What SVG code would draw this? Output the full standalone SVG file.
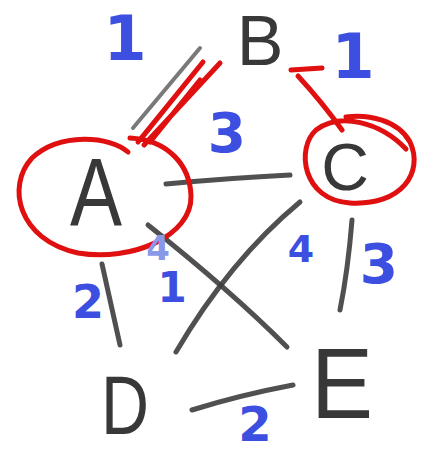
<svg xmlns="http://www.w3.org/2000/svg" width="423" height="453" viewBox="0 0 423 453">
<style>
.lt{font-family:"Liberation Sans",Arial,sans-serif;fill:#383838;text-anchor:middle}
.nm{font-family:"DejaVu Sans",sans-serif;font-weight:bold;fill:#3d4fe0;text-anchor:middle}
.ed{stroke:#3d3d3d;stroke-width:5;fill:none;stroke-linecap:round;opacity:0.9}
.rd{stroke:#e01010;stroke-width:5;fill:none;stroke-linecap:round;stroke-linejoin:round}
</style>
<rect width="423" height="453" fill="#fff"/>
<g id="edges">
<path class="ed" d="M133,128 L200,48" style="stroke:#6a6a6a;stroke-width:4"/>
<path class="ed" d="M166,184 Q230,178 290,175"/>
<path class="ed" d="M300,202 Q230,260 176,352"/>
<path class="ed" d="M148,225 Q230,290 287,347"/>
<path class="ed" d="M352,220 Q348,270 340,310"/>
<path class="ed" d="M102,264 L120,345"/>
<path class="ed" d="M192,410 Q240,395 293,385"/>
<path class="rd" d="M138,142 L203,62 M144,145 L220,63 M150,142 L200,80 M140,140 L190,78"/>
<path class="rd" d="M291,70 L322,68 M298,76 Q322,102 342,130"/>
</g>
<g id="A">
<path class="rd" d="M128,152 C110,136 60,132 32,158 C6,186 18,240 78,253 C132,262 192,236 191,196 C190,165 168,140 130,138"/>
<text class="lt" x="96" y="225" font-size="96" textLength="52" lengthAdjust="spacingAndGlyphs">A</text>
</g>
<g id="B"><text class="lt" x="260" y="65" font-size="70">B</text></g>
<g id="C">
<path class="rd" d="M406,149 C380,122 340,112 316,130 C296,148 302,200 350,203 C402,206 424,172 410,142 C398,120 368,114 346,117"/>
<text class="lt" x="345" y="190" font-size="66">C</text>
</g>
<g id="D"><text class="lt" x="125" y="434" font-size="84" textLength="48" lengthAdjust="spacingAndGlyphs">D</text></g>
<g id="E"><text class="lt" x="342" y="418" font-size="100" textLength="62" lengthAdjust="spacingAndGlyphs">E</text></g>
<g id="labels">
<text class="nm" x="158" y="260" font-size="34" style="fill:#8a98ea">4</text>
<text class="nm" x="172" y="302" font-size="42">1</text>
<text class="nm" x="125" y="60" font-size="62">1</text>
<text class="nm" x="353" y="78" font-size="62">1</text>
<text class="nm" x="227" y="152" font-size="55">3</text>
<text class="nm" x="301" y="262" font-size="38">4</text>
<text class="nm" x="379" y="283" font-size="55">3</text>
<text class="nm" x="88" y="318" font-size="46">2</text>
<text class="nm" x="255" y="441" font-size="48">2</text>
</g>
</svg>
